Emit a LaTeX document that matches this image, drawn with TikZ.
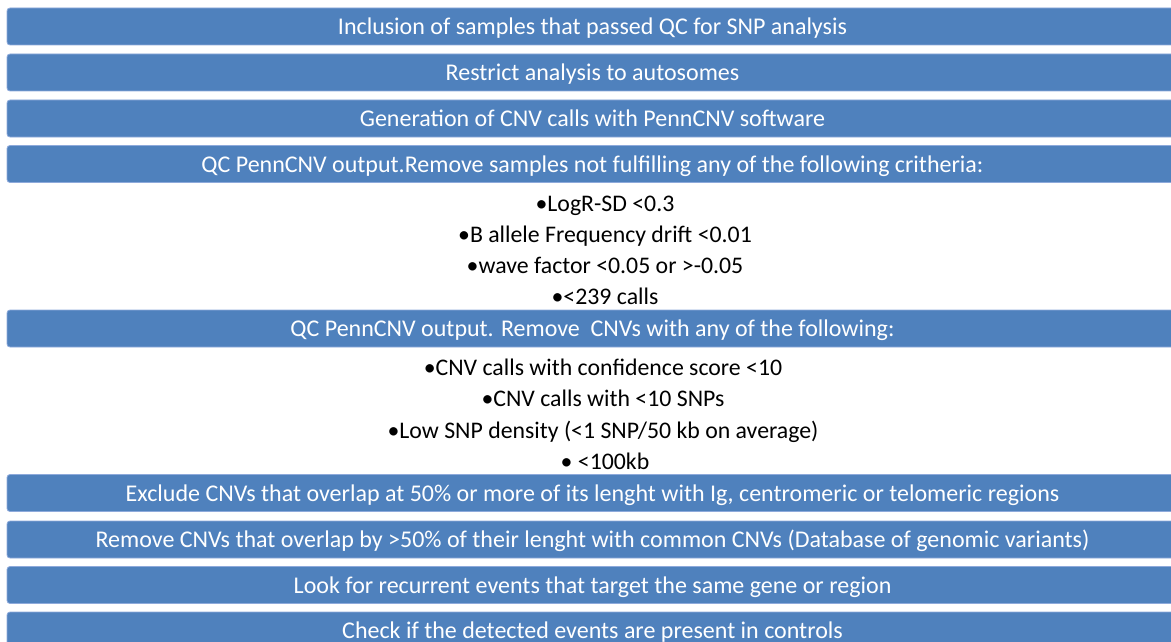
\documentclass[tikz,border=0pt]{standalone}
\usepackage{fontspec}
\setmainfont{Carlito}
\definecolor{barblue}{HTML}{4F81BD}
\definecolor{baredge}{HTML}{8EAADB}
\tikzset{
  stagebar/.style={fill=barblue, draw=baredge, line width=0.8pt, rounded corners=3pt,
    minimum width=1171pt, minimum height=37pt, inner sep=0pt, outer sep=0pt,
    text height=20pt, text depth=4pt,
    text=white, font=\fontsize{24}{28}\selectfont, anchor=west},
  crit/.style={text=black, font=\fontsize{23.8}{28}\selectfont, inner sep=0pt,
    text height=20pt, text depth=4pt, anchor=center}
}
\begin{document}
\begin{tikzpicture}[x=1pt, y=-1pt]
\useasboundingbox (0,0) rectangle (1171,642);
\clip (0,0) rectangle (1171,642);
% main pipeline stages
\node[stagebar] (s1) at (7,26.5)  {Inclusion of samples that passed QC for SNP analysis};
\node[stagebar] (s2) at (7,72.5)  {Restrict analysis to autosomes};
\node[stagebar] (s3) at (7,118.5) {Generation of CNV calls with PennCNV software};
\node[stagebar] (s4) at (7,164)   {QC PennCNV output.Remove samples not fulfilling any of the following critheria:};
\node[stagebar] (s5) at (7,328.5) {QC PennCNV output. Remove~ CNVs with any of the following:};
\node[stagebar] (s6) at (7,493)   {Exclude CNVs that overlap at 50\% or more of its lenght with Ig, centromeric or telomeric regions};
\node[stagebar] (s7) at (7,539.5) {Remove CNVs that overlap by >50\% of their lenght with common CNVs (Database of genomic variants)};
\node[stagebar] (s8) at (7,585)   {Look for recurrent events that target the same gene or region};
\node[stagebar] (s9) at (7,630.5) {Check if the detected events are present in controls};
% sample-level criteria
\node[crit] (a1) at (605,203) {•LogR-SD <0.3};
\node[crit] (a2) at (605,234) {•B allele Frequency drift <0.01};
\node[crit] (a3) at (605,265) {•wave factor <0.05 or >-0.05};
\node[crit] (a4) at (605,296) {•<239 calls};
% CNV-level criteria
\node[crit] (b1) at (603,367) {•CNV calls with confidence score <10};
\node[crit] (b2) at (603,398) {•CNV calls with <10 SNPs};
\node[crit] (b3) at (603,430) {•Low SNP density (<1 SNP/50 kb on average)};
\node[crit] (b4) at (605,461) {• <100kb};
\end{tikzpicture}
\end{document}
